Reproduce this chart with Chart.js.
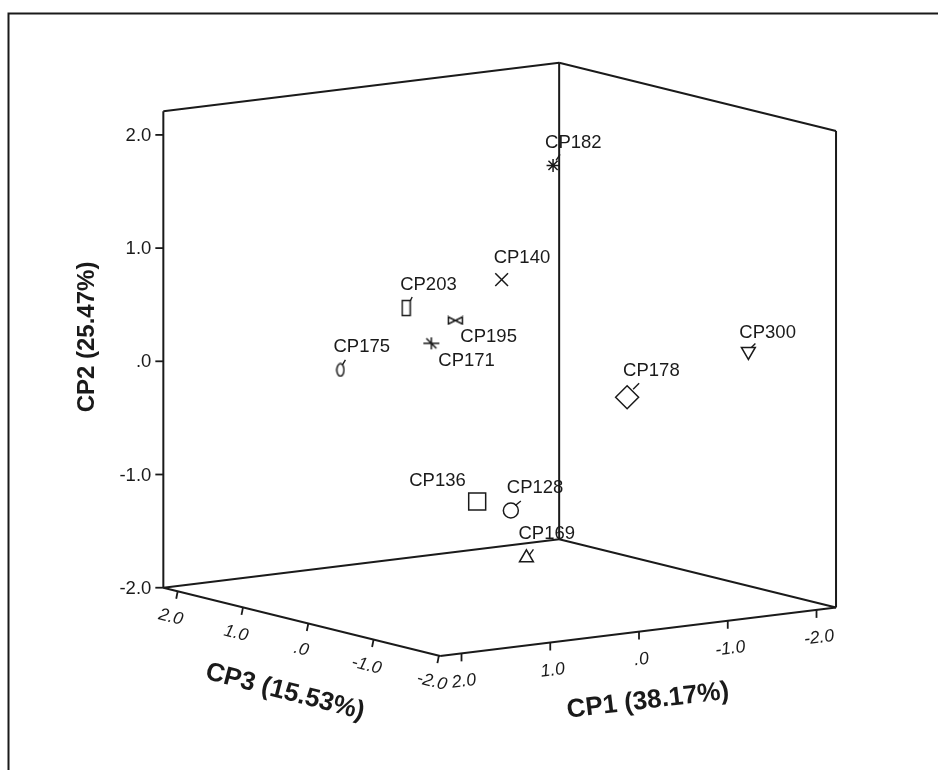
<!DOCTYPE html>
<html>
<head>
<meta charset="utf-8">
<script src="https://cdn.jsdelivr.net/npm/chart.js@4.4.0/dist/chart.umd.min.js"></script>
<style>
  html, body { margin: 0; padding: 0; background: #fff; }
  canvas { display: block; }
</style>
</head>
<body>
<canvas id="c" width="938" height="770"></canvas>
<script>
// Component scores of each sample
const samples = ['CP182', 'CP140', 'CP203', 'CP195', 'CP171', 'CP175', 'CP300', 'CP178', 'CP136', 'CP128', 'CP169'];
const cp1 = [-1.18, -0.38, -0.04, 0.73, 0.78, 0.48, -1.60, -0.05, 1.22, 0.62, 0.15];
const cp2 = [1.59, 0.70, 0.34, 0.56, 0.32, -0.20, 0.25, 0.03, -0.85, -1.03, -1.55];
const cp3 = [0.90, 0.60, 1.60, -0.20, 0.10, 1.90, -1.52, -1.77, -1.20, -0.90, -0.50];

// Axis extents of the cube and the tick marks on each axis
const cp1Range = [-2.22, 2.24];
const cp2Range = [-2.0, 2.21];
const cp3Range = [-2.02, 2.22];
const tickValues = [-2, -1, 0, 1, 2];
const tickLabels = ['-2.0', '-1.0', '.0', '1.0', '2.0'];
const axisTitles = { cp1: 'CP1 (38.17%)', cp2: 'CP2 (25.47%)', cp3: 'CP3 (15.53%)' };

// Parallel projection of the 3-D space onto the page
const VIEW = { ox: 507.1, oy: 372.7, e1: [-88.75, 10.87], e2: [0, -113.2], e3: [-65.3, -16.1] };
function project(a, b, c) {
  return {
    x: VIEW.ox + a * VIEW.e1[0] + b * VIEW.e2[0] + c * VIEW.e3[0],
    y: VIEW.oy + a * VIEW.e1[1] + b * VIEW.e2[1] + c * VIEW.e3[1]
  };
}

const INK = '#1a1a1a';
const FONT = '"Liberation Sans", Arial, sans-serif';

// Hollow marker shapes that Chart.js does not provide
function shapeCanvas(w, h, draw) {
  const cv = document.createElement('canvas');
  cv.width = w; cv.height = h;
  const g = cv.getContext('2d');
  g.strokeStyle = INK; g.lineWidth = 1.5;
  draw(g, w, h);
  return cv;
}
const thinRect = shapeCanvas(11, 18, (g) => { g.strokeRect(1.5, 1.5, 8, 15); });
const thinOval = shapeCanvas(10, 15, (g) => { g.beginPath(); g.ellipse(5, 7.5, 3.6, 6.2, 0, 0, Math.PI * 2); g.stroke(); });
const bowtie = shapeCanvas(17, 10, (g) => {
  g.beginPath();
  g.moveTo(1.5, 1.5); g.lineTo(15.5, 8.5); g.lineTo(15.5, 1.5); g.lineTo(1.5, 8.5); g.closePath();
  g.stroke();
});
const asterisk = shapeCanvas(18, 16, (g) => {
  g.beginPath();
  g.moveTo(1, 8); g.lineTo(17, 8);
  g.moveTo(9, 2); g.lineTo(9, 14);
  g.moveTo(4, 3); g.lineTo(14, 13);
  g.stroke();
});

// Marker, label placement and leader line for each sample
const markerStyle = {
  CP182: { style: 'star', r: 6.5, label: [-8, -22], leader: [3, -5, 7, -11] },
  CP140: { style: 'crossRot', r: 9, label: [-8, -22] },
  CP203: { style: thinRect, r: 8, label: [-6, -23], leader: [4, -7, 6, -11] },
  CP195: { style: bowtie, r: 8, label: [5, 16] },
  CP171: { style: asterisk, r: 8, label: [7, 18] },
  CP175: { style: thinOval, r: 7, label: [-7, -23], leader: [2, -5, 5, -10] },
  CP300: { style: 'triangle', r: 8, rot: 180, label: [-9, -19], leader: [3, -4, 7, -8] },
  CP178: { style: 'rectRot', r: 11.5, label: [-4, -26], leader: [6, -8, 12, -14] },
  CP136: { style: 'rect', r: 12, label: [-68, -21] },
  CP128: { style: 'circle', r: 7.5, label: [-4, -23], leader: [4.5, -5, 10, -9.5] },
  CP169: { style: 'triangle', r: 8, label: [-8, -24], leader: [3, -3, 7, -8.5] }
};

// Three back walls of the cube
const A = project(cp1Range[1], cp2Range[0], cp3Range[1]);
const B = project(cp1Range[0], cp2Range[0], cp3Range[1]);
const C = project(cp1Range[0], cp2Range[0], cp3Range[0]);
const D = project(cp1Range[1], cp2Range[0], cp3Range[0]);
const At = project(cp1Range[1], cp2Range[1], cp3Range[1]);
const Bt = project(cp1Range[0], cp2Range[1], cp3Range[1]);
const Ct = project(cp1Range[0], cp2Range[1], cp3Range[0]);
const edges = [[A, B], [B, C], [A, D], [D, C], [A, At], [B, Bt], [C, Ct], [At, Bt], [Bt, Ct]];

const pointData = samples.map((s, i) => project(cp1[i], cp2[i], cp3[i]));

const datasets = [{
  label: 'samples',
  data: pointData,
  pointStyle: samples.map(s => markerStyle[s].style),
  pointRadius: samples.map(s => markerStyle[s].r),
  pointRotation: samples.map(s => markerStyle[s].rot || 0),
  pointBorderColor: INK,
  pointBackgroundColor: 'rgba(0,0,0,0)',
  pointBorderWidth: 1.5,
  showLine: false
}].concat(edges.map(e => ({
  label: 'edge',
  data: [e[0], e[1]],
  showLine: true,
  borderColor: INK,
  borderWidth: 2,
  pointRadius: 0,
  fill: false
})));

const decorations = {
  id: 'decorations',
  afterDatasetsDraw(chart) {
    const ctx = chart.ctx;
    const sx = chart.scales.x, sy = chart.scales.y;
    const px = (p) => ({ x: sx.getPixelForValue(p.x), y: sy.getPixelForValue(p.y) });
    ctx.save();
    ctx.strokeStyle = INK;
    ctx.fillStyle = INK;

    // outer frame
    ctx.lineWidth = 2;
    ctx.beginPath();
    ctx.moveTo(8.5, 780); ctx.lineTo(8.5, 13.5); ctx.lineTo(950, 13.5);
    ctx.stroke();

    ctx.lineWidth = 1.8;
    // CP2 axis: left vertical edge
    ctx.font = '18.5px ' + FONT;
    ctx.textAlign = 'right';
    ctx.textBaseline = 'middle';
    tickValues.forEach((v, i) => {
      const p = px(project(cp1Range[1], v, cp3Range[1]));
      ctx.beginPath(); ctx.moveTo(p.x, p.y); ctx.lineTo(p.x - 8, p.y); ctx.stroke();
      ctx.fillText(tickLabels[i], p.x - 12, p.y + 1);
    });

    // CP3 axis: front-left floor edge
    ctx.font = 'italic 17.5px ' + FONT;
    ctx.textAlign = 'center';
    const a3 = Math.atan2(-VIEW.e3[1], -VIEW.e3[0]);
    tickValues.forEach((v, i) => {
      const p = px(project(cp1Range[1], cp2Range[0], v));
      ctx.beginPath(); ctx.moveTo(p.x, p.y); ctx.lineTo(p.x - 1.5, p.y + 7.5); ctx.stroke();
      ctx.save();
      ctx.translate(p.x - 7, p.y + 26);
      ctx.rotate(a3);
      ctx.fillText(tickLabels[i], 0, 0);
      ctx.restore();
    });

    // CP1 axis: front-right floor edge
    const a1 = Math.atan2(-VIEW.e1[1], -VIEW.e1[0]);
    tickValues.forEach((v, i) => {
      const p = px(project(v, cp2Range[0], cp3Range[0]));
      ctx.beginPath(); ctx.moveTo(p.x, p.y); ctx.lineTo(p.x, p.y + 8); ctx.stroke();
      ctx.save();
      ctx.translate(p.x + 2.5, p.y + 28);
      ctx.rotate(a1);
      ctx.fillText(tickLabels[i], 0, 0);
      ctx.restore();
    });

    // axis titles
    ctx.textAlign = 'center';
    ctx.textBaseline = 'middle';
    ctx.font = 'bold 24px ' + FONT;
    ctx.save(); ctx.translate(87, 337); ctx.rotate(-Math.PI / 2); ctx.fillText(axisTitles.cp2, 0, 0); ctx.restore();
    ctx.font = 'bold 26px ' + FONT;
    ctx.save(); ctx.translate(285, 692); ctx.rotate(14.5 * Math.PI / 180); ctx.fillText(axisTitles.cp3, 0, 0); ctx.restore();
    ctx.save(); ctx.translate(648, 701); ctx.rotate(-6.8 * Math.PI / 180); ctx.fillText(axisTitles.cp1, 0, 0); ctx.restore();

    // sample labels with their leader lines
    const meta = chart.getDatasetMeta(0);
    ctx.font = '18.5px ' + FONT;
    ctx.textAlign = 'left';
    ctx.textBaseline = 'middle';
    ctx.lineWidth = 1.4;
    samples.forEach((s, i) => {
      const el = meta.data[i];
      const st = markerStyle[s];
      if (st.leader) {
        ctx.beginPath();
        ctx.moveTo(el.x + st.leader[0], el.y + st.leader[1]);
        ctx.lineTo(el.x + st.leader[2], el.y + st.leader[3]);
        ctx.stroke();
      }
      ctx.fillText(s, el.x + st.label[0], el.y + st.label[1]);
    });
    ctx.restore();
  }
};

new Chart(document.getElementById('c'), {
  type: 'scatter',
  data: { datasets },
  options: {
    responsive: false,
    animation: false,
    devicePixelRatio: 1,
    layout: { padding: 0, autoPadding: false },
    plugins: { legend: { display: false }, tooltip: { enabled: false } },
    events: [],
    scales: {
      x: { type: 'linear', min: 0, max: 938, display: false },
      y: { type: 'linear', min: 0, max: 770, reverse: true, display: false }
    }
  },
  plugins: [decorations]
});
</script>
</body>
</html>
